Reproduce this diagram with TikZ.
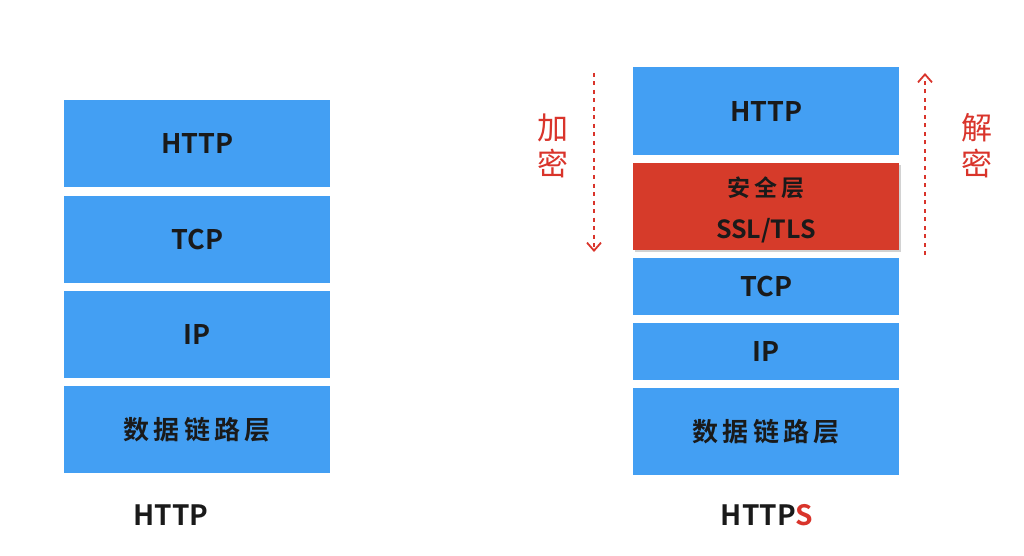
\documentclass[tikz,border=0pt]{standalone}
\usepackage{fontspec}
\setmainfont{Noto Sans CJK SC}[BoldFont={Noto Sans CJK SC Bold}]
\usetikzlibrary{arrows.meta,shadows}
\definecolor{layerblue}{HTML}{439FF3}
\definecolor{seclayer}{HTML}{D63B2A}
\definecolor{arrowred}{HTML}{D9342B}
\definecolor{inktext}{HTML}{1A1A1A}
\tikzset{
  layer/.style={fill=layerblue, draw=none, inner sep=0pt, anchor=north west, text=inktext, font=\fontsize{27}{30}\selectfont\bfseries},
  seclay/.style={fill=seclayer, draw=none, inner sep=0pt, anchor=north west,
     drop shadow={shadow xshift=2pt, shadow yshift=-2pt, opacity=0.35}},
  dotarrow/.style={draw=arrowred, line width=2.2pt, dash pattern=on 4pt off 4.5pt, -{Straight Barb[length=8pt,width=14pt,line width=1.8pt]}},
  sidelabel/.style={text=arrowred, font=\fontsize{31}{34}\selectfont, align=center},
  caption/.style={text=inktext, font=\fontsize{28}{30}\selectfont\bfseries}
}
\begin{document}
\begin{tikzpicture}[x=1pt,y=-1pt]
\useasboundingbox (0,0) rectangle (1024,556);
\fill[white] (0,0) rectangle (1024,556);
% left stack
\node[layer, minimum width=266pt, minimum height=87pt] (lhttp) at (64,100) {HTTP};
\node[layer, minimum width=266pt, minimum height=87pt] (ltcp) at (64,196) {TCP};
\node[layer, minimum width=266pt, minimum height=87pt] (lip) at (64,291) {IP};
\node[layer, minimum width=266pt, minimum height=87pt, font=\fontsize{26}{28}\selectfont\bfseries] (llink) at (64,386) {数\,据\,链\,路\,层};
\node[caption] (lcap) at (171,515) {HTTP};
% right stack
\node[layer, minimum width=266pt, minimum height=88pt] (rhttp) at (633,67) {HTTP};
\node[seclay, minimum width=266pt, minimum height=87pt] (rsec) at (633,163) {};
\node[text=inktext, font=\fontsize{23}{26}\selectfont\bfseries] (rsec1) at (766,188) {安\,全\,层};
\node[text=inktext, font=\fontsize{25}{28}\selectfont\bfseries] (rsec2) at (766,231) {SSL/TLS};
\node[layer, minimum width=266pt, minimum height=57pt] (rtcp) at (633,258) {TCP};
\node[layer, minimum width=266pt, minimum height=57pt] (rip) at (633,323) {IP};
\node[layer, minimum width=266pt, minimum height=87pt, font=\fontsize{26}{28}\selectfont\bfseries] (rlink) at (633,388) {数\,据\,链\,路\,层};
\node[caption] (rcap) at (767,515) {HTTP\textcolor{arrowred}{S}};
% arrows
\coordinate (encs) at (594,73);
\coordinate (ence) at (594,252);
\coordinate (decs) at (925,255);
\coordinate (dece) at (925,73);
\draw[dotarrow] (encs) -- (ence);
\draw[dotarrow] (decs) -- (dece);
\node[sidelabel] (enc) at (553,146) {加\\[2pt]密};
\node[sidelabel] (dec) at (977,146) {解\\[2pt]密};
\end{tikzpicture}
\end{document}
